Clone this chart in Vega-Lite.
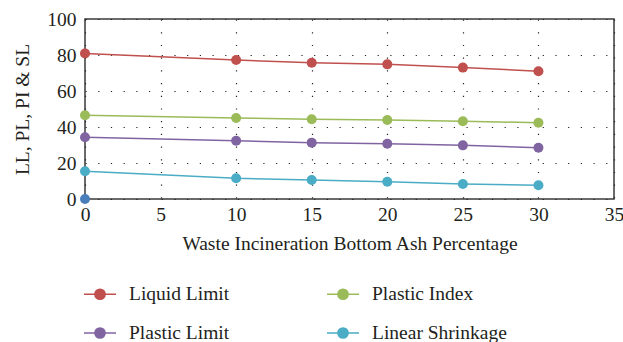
{
  "$schema": "https://vega.github.io/schema/vega-lite/v6.json",
  "width": 529,
  "height": 180,
  "autosize": {"type": "none"},
  "padding": {"left": 85, "top": 19, "right": 9, "bottom": 143},
  "config": {
    "font": "Liberation Serif",
    "view": {"stroke": "#3a3a3a", "strokeWidth": 1.5},
    "axis": {
      "domain": false,
      "ticks": false,
      "labelFlush": false,
      "labelFont": "Liberation Serif",
      "labelFontSize": 19.5,
      "labelColor": "#231f20",
      "titleFont": "Liberation Serif",
      "titleFontSize": 19.5,
      "titleFontWeight": "normal",
      "titleColor": "#231f20",
      "gridColor": "#222222",
      "gridWidth": 1.2,
      "gridDash": [1.2, 11.5]
    },
    "legend": {
      "labelFont": "Liberation Serif",
      "labelFontSize": 19.5,
      "labelColor": "#231f20"
    }
  },
  "data": {
    "values": [
      {"pct": 0, "val": 80.9, "series": "Liquid Limit"},
      {"pct": 10, "val": 77.2, "series": "Liquid Limit"},
      {"pct": 15, "val": 75.7, "series": "Liquid Limit"},
      {"pct": 20, "val": 74.8, "series": "Liquid Limit"},
      {"pct": 25, "val": 73.0, "series": "Liquid Limit"},
      {"pct": 30, "val": 71.0, "series": "Liquid Limit"},
      {"pct": 0, "val": 46.5, "series": "Plastic Index"},
      {"pct": 10, "val": 45.0, "series": "Plastic Index"},
      {"pct": 15, "val": 44.3, "series": "Plastic Index"},
      {"pct": 20, "val": 43.9, "series": "Plastic Index"},
      {"pct": 25, "val": 43.2, "series": "Plastic Index"},
      {"pct": 30, "val": 42.4, "series": "Plastic Index"},
      {"pct": 0, "val": 34.3, "series": "Plastic Limit"},
      {"pct": 10, "val": 32.4, "series": "Plastic Limit"},
      {"pct": 15, "val": 31.3, "series": "Plastic Limit"},
      {"pct": 20, "val": 30.7, "series": "Plastic Limit"},
      {"pct": 25, "val": 29.8, "series": "Plastic Limit"},
      {"pct": 30, "val": 28.5, "series": "Plastic Limit"},
      {"pct": 0, "val": 15.4, "series": "Linear Shrinkage"},
      {"pct": 10, "val": 11.5, "series": "Linear Shrinkage"},
      {"pct": 15, "val": 10.6, "series": "Linear Shrinkage"},
      {"pct": 20, "val": 9.6, "series": "Linear Shrinkage"},
      {"pct": 25, "val": 8.3, "series": "Linear Shrinkage"},
      {"pct": 30, "val": 7.6, "series": "Linear Shrinkage"}
    ]
  },
  "encoding": {
    "x": {
      "field": "pct",
      "type": "quantitative",
      "scale": {"domain": [0, 35], "nice": false, "zero": false},
      "axis": {
        "values": [0, 5, 10, 15, 20, 25, 30, 35],
        "gridValues": [5, 10, 15, 20, 25, 30],
        "title": "Waste Incineration Bottom Ash Percentage",
        "labelPadding": 6,
        "titlePadding": 11
      }
    },
    "y": {
      "field": "val",
      "type": "quantitative",
      "scale": {"domain": [0, 100], "nice": false},
      "axis": {
        "values": [0, 20, 40, 60, 80, 100],
        "gridValues": [20, 40, 60, 80],
        "title": "LL, PL, PI & SL",
        "labelPadding": 9,
        "titlePadding": 14
      }
    }
  },
  "layer": [
    {
      "mark": {"type": "line", "strokeWidth": 1.5},
      "encoding": {
        "color": {
          "field": "series",
          "type": "nominal",
          "scale": {
            "domain": ["Liquid Limit", "Plastic Index", "Plastic Limit", "Linear Shrinkage"],
            "range": ["#c0504d", "#9bbb59", "#8064a2", "#4bacc6"]
          },
          "legend": {
            "title": null,
            "orient": "none",
            "legendX": -2,
            "legendY": 258,
            "columns": 2,
            "direction": "horizontal",
            "columnPadding": 94,
            "rowPadding": 12,
            "symbolType": "M-1,0H1M-0.32,0A0.32,0.32 0 1,0 0.32,0A0.32,0.32 0 1,0 -0.32,0Z",
            "symbolSize": 1024,
            "symbolStrokeWidth": 1.5,
            "labelOffset": 12,
            "encode": {
              "symbols": {
                "update": {
                  "fill": {"scale": "color", "field": "value"},
                  "stroke": {"scale": "color", "field": "value"},
                  "opacity": {"value": 1}
                }
              }
            }
          }
        }
      }
    },
    {
      "mark": {"type": "circle", "size": 100, "opacity": 1},
      "encoding": {
        "color": {"field": "series", "type": "nominal"}
      }
    },
    {
      "data": {"values": [{"pct": 0, "val": 0}]},
      "mark": {"type": "circle", "size": 100, "opacity": 1, "color": "#4a7ebb"},
      "encoding": {}
    }
  ]
}
